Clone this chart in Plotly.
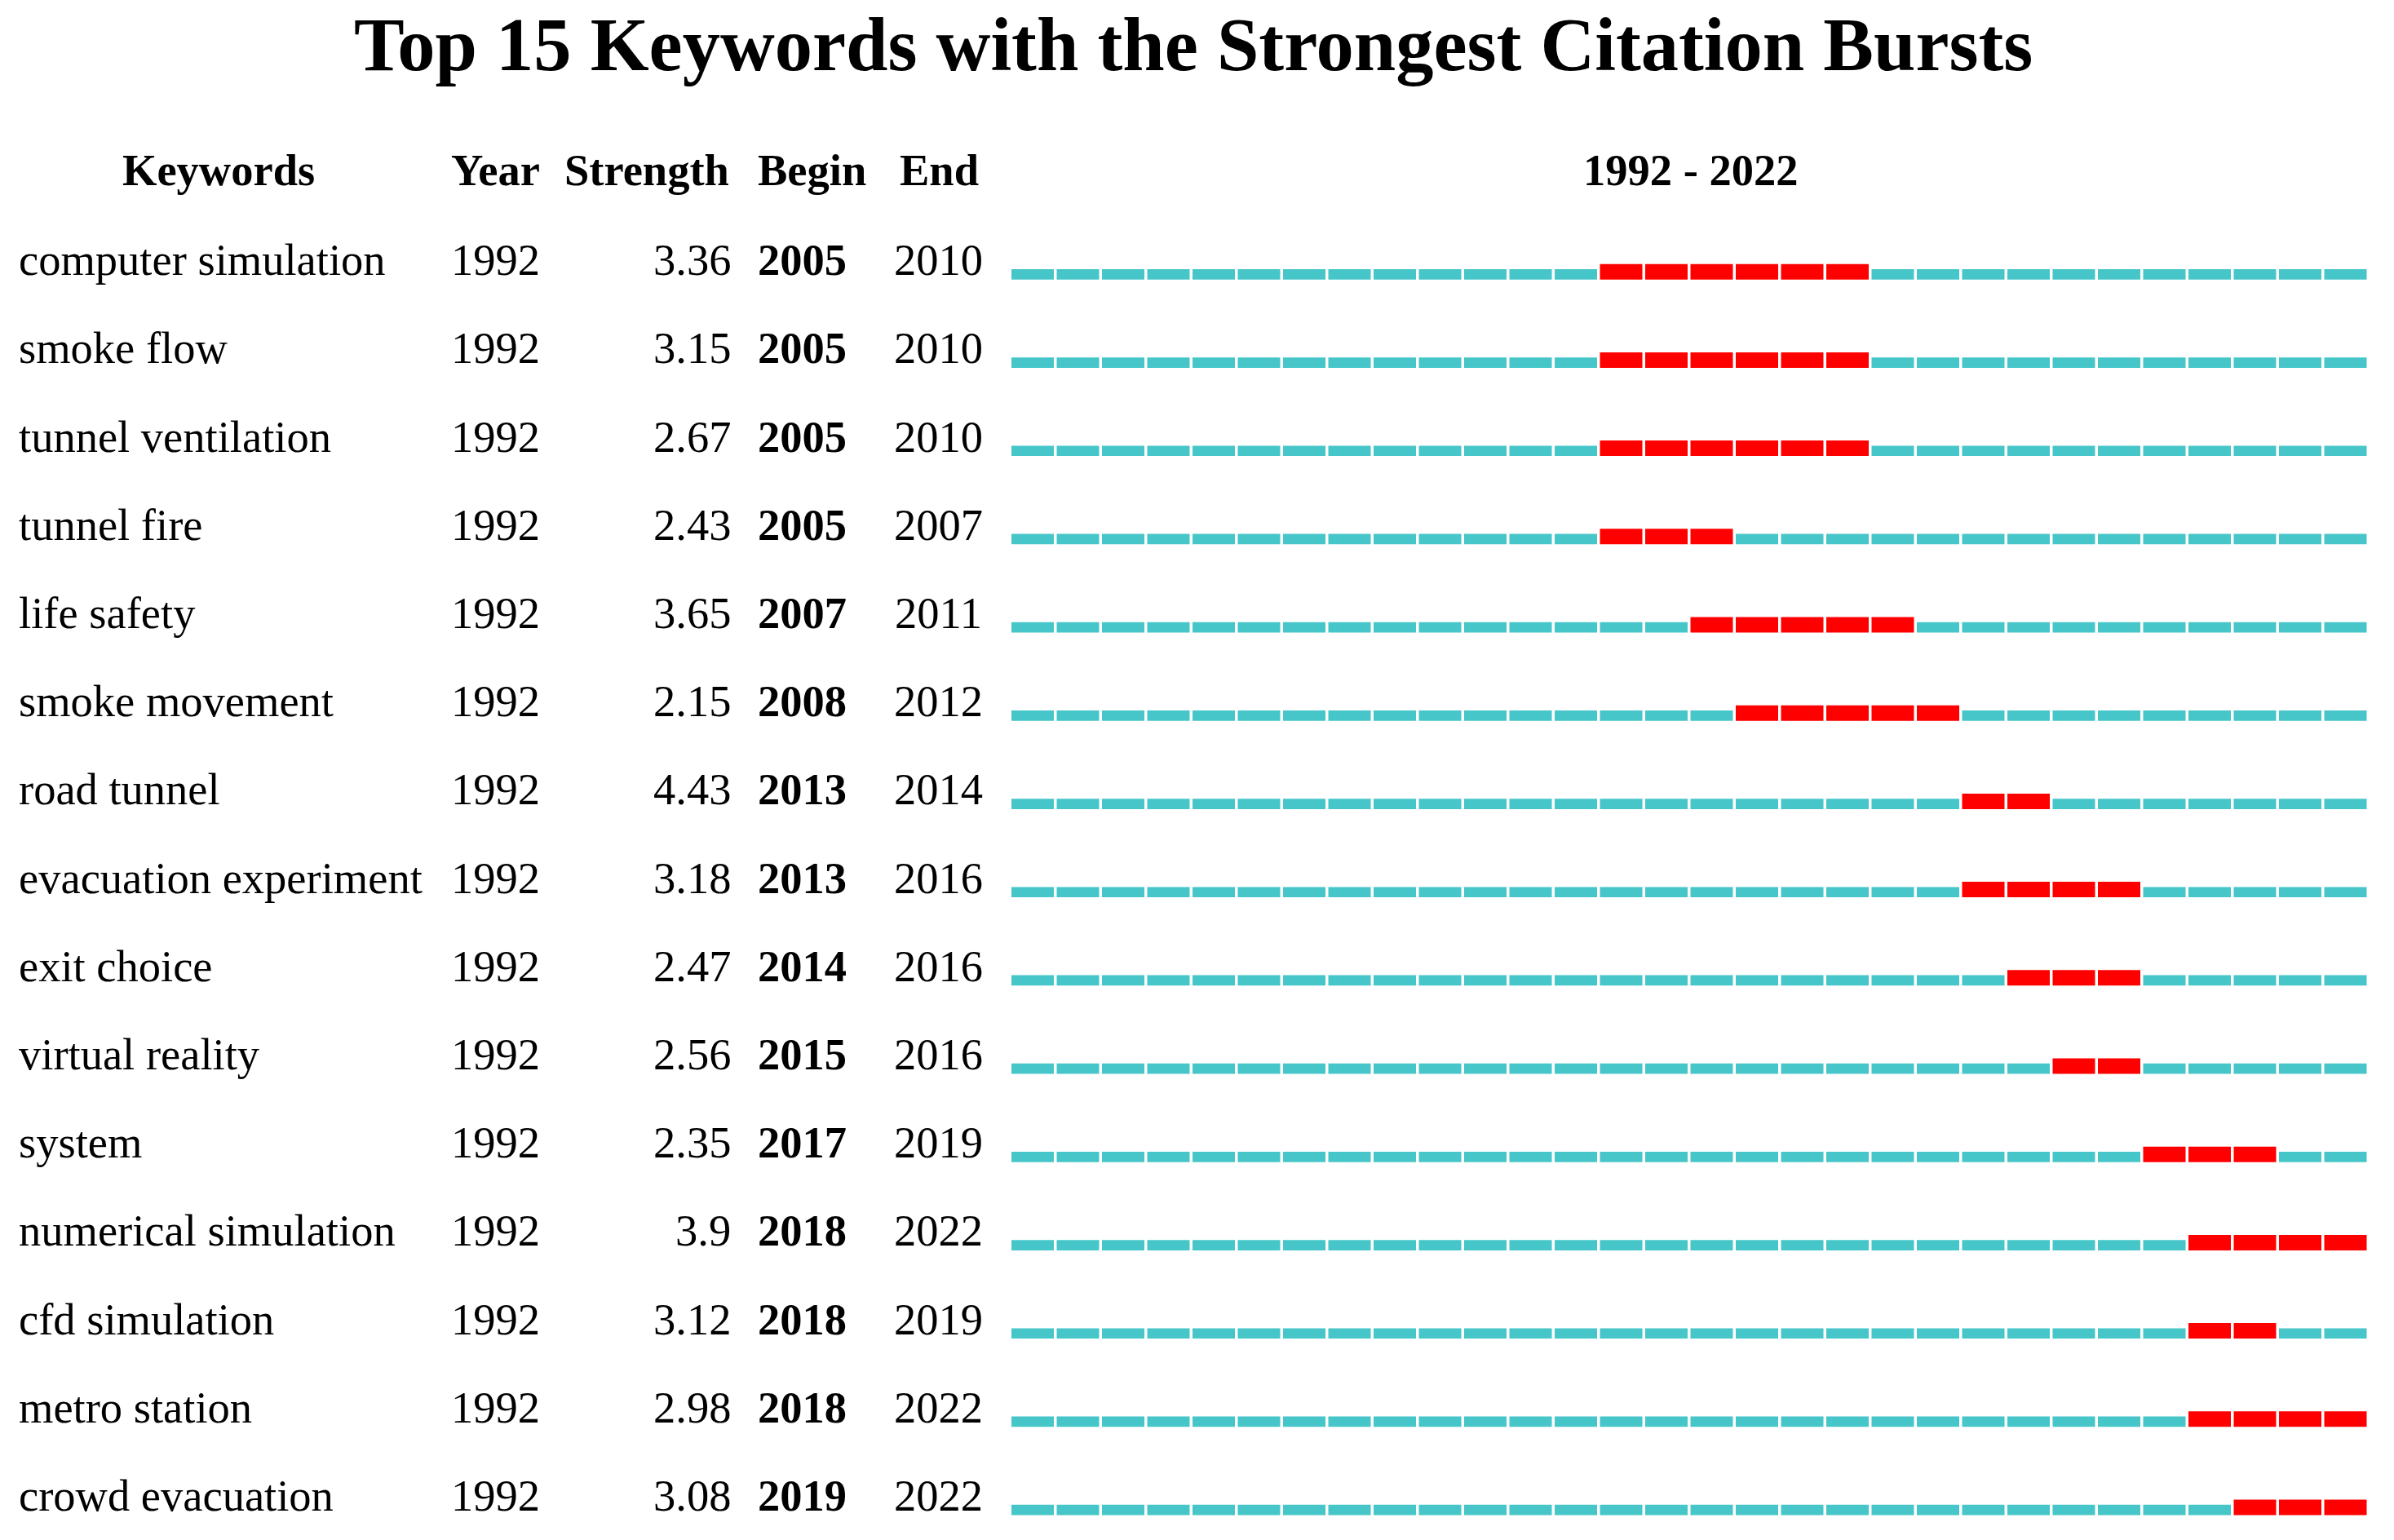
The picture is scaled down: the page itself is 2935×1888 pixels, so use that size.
import plotly.graph_objects as go

# ---------------- data ----------------
title_text = "Top 15 Keywords with the Strongest Citation Bursts"
header_labels = ["Keywords", "Year", "Strength", "Begin", "End"]
range_label = "1992 - 2022"

keywords = [
    "computer simulation", "smoke flow", "tunnel ventilation", "tunnel fire",
    "life safety", "smoke movement", "road tunnel", "evacuation experiment",
    "exit choice", "virtual reality", "system", "numerical simulation",
    "cfd simulation", "metro station", "crowd evacuation",
]
first_year = [1992, 1992, 1992, 1992, 1992, 1992, 1992, 1992,
              1992, 1992, 1992, 1992, 1992, 1992, 1992]
strength = [3.36, 3.15, 2.67, 2.43, 3.65, 2.15, 4.43, 3.18,
            2.47, 2.56, 2.35, 3.9, 3.12, 2.98, 3.08]
begin = [2005, 2005, 2005, 2005, 2007, 2008, 2013, 2013,
         2014, 2015, 2017, 2018, 2018, 2018, 2019]
end = [2010, 2010, 2010, 2007, 2011, 2012, 2014, 2016,
       2016, 2016, 2019, 2022, 2019, 2022, 2022]
# year slices drawn in the timeline (as in the reference: 1992 .. 2021)
timeline_years = list(range(1992, 2022))

# ---------------- styling ----------------
W, H = 2935, 1888
PAGE_OFF = 8        # browser default body margin
FONT = "Liberation Serif, Times New Roman, serif"
CYAN = "#46C6C8"
RED = "#FF0000"
ROW_PX = 108.2      # pixel distance between rows
ROW0_PX = 336.0 - PAGE_OFF     # baseline pixel of first row
SEG_PX = 55.5       # pixel pitch of one year
SEG0_PX = 1240.0 - PAGE_OFF    # left pixel of first year slice
FS = 54.5
FS_TITLE = 92.5


def px2y(p):
    return (p - PAGE_OFF - ROW0_PX) / ROW_PX


def px2xpaper(p):
    return (p - PAGE_OFF) / W


y_range = [(H - ROW0_PX) / ROW_PX, (0 - ROW0_PX) / ROW_PX]
x_range = [timeline_years[0] - SEG0_PX / SEG_PX,
           timeline_years[0] + (W - SEG0_PX) / SEG_PX]

seg_len = 52.0 / SEG_PX
bottom = 6.7 / ROW_PX
cyan_h = 12.7 / ROW_PX
red_h = 19.0 / ROW_PX

cy_y, cy_base, red_y, red_base = [], [], [], []
for i, kw in enumerate(keywords):
    for yr in timeline_years:
        if begin[i] <= yr <= end[i]:
            red_y.append(i)
            red_base.append(yr)
        else:
            cy_y.append(i)
            cy_base.append(yr)

fig = go.Figure()
fig.add_trace(go.Bar(
    orientation="h", y=cy_y, base=cy_base, x=[seg_len] * len(cy_y),
    width=cyan_h, offset=bottom - cyan_h,
    marker=dict(color=CYAN, line=dict(width=0)), hoverinfo="skip",
    showlegend=False,
))
fig.add_trace(go.Bar(
    orientation="h", y=red_y, base=red_base, x=[seg_len] * len(red_y),
    width=red_h, offset=bottom - red_h,
    marker=dict(color=RED, line=dict(width=0)), hoverinfo="skip",
    showlegend=False,
))

ann = []


def text(xpx, yval, s, size=FS, bold=False, xanchor="left"):
    ann.append(dict(
        x=px2xpaper(xpx), xref="paper", y=yval, yref="y",
        text=f"<b>{s}</b>" if bold else s, showarrow=False,
        xanchor=xanchor, yanchor="middle", yshift=0.3375 * size,
        font=dict(family=FONT, size=size, color="black"),
    ))


# title
text(1463, px2y(86), title_text, size=FS_TITLE, bold=True, xanchor="center")
# headers
hy = px2y(226.7)
text(268, hy, header_labels[0], bold=True, xanchor="center")
text(551, hy, header_labels[1], bold=True, xanchor="left")
text(896, hy, header_labels[2], bold=True, xanchor="right")
text(927, hy, header_labels[3], bold=True, xanchor="left")
text(1151, hy, header_labels[4], bold=True, xanchor="center")
text(1240 + SEG_PX * len(timeline_years) / 2, hy,
     range_label, bold=True, xanchor="center")

for i, kw in enumerate(keywords):
    yv = px2y(337.0 + i * ROW_PX)
    text(21, yv, kw)
    text(551, yv, str(first_year[i]))
    text(898, yv, str(strength[i]), xanchor="right")
    text(927, yv, str(begin[i]), bold=True)
    text(1150, yv, str(end[i]), xanchor="center")

fig.update_layout(
    width=W, height=H,
    margin=dict(l=0, r=0, t=0, b=0, pad=0),
    paper_bgcolor="white", plot_bgcolor="white",
    barmode="overlay",
    xaxis=dict(range=x_range, visible=False, showgrid=False, zeroline=False,
               fixedrange=True),
    yaxis=dict(range=y_range, visible=False, showgrid=False, zeroline=False,
               fixedrange=True),
    annotations=ann,
)

fig.write_html("out.html")
